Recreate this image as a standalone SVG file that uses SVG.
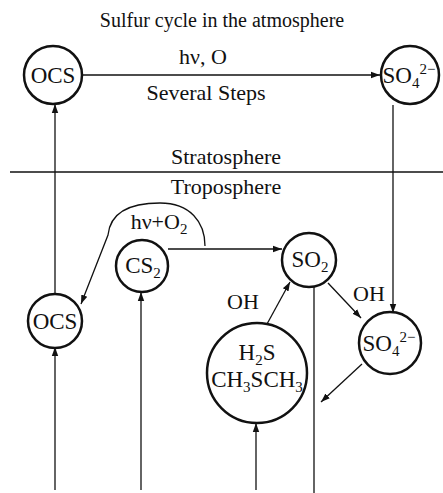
<svg xmlns="http://www.w3.org/2000/svg" width="443" height="493" viewBox="0 0 443 493">
<defs>
<style>
text{font-family:"Liberation Serif","DejaVu Serif",serif;fill:#111;}
.ti{font-size:20px;text-anchor:middle;}
.t{font-size:22px;text-anchor:middle;}
.n{font-size:23px;text-anchor:middle;}
.sub{font-size:15px;}
circle{fill:#fff;stroke:#111;stroke-width:2.5;}
.c line,.c path{stroke:#111;stroke-width:1.3;fill:none;}
</style>
<marker id="ah" markerWidth="10" markerHeight="8" refX="9" refY="4" orient="auto" markerUnits="userSpaceOnUse">
<path d="M0,0.8 L9,4 L0,7.2 Z" fill="#111"/>
</marker>
</defs>
<rect width="443" height="493" fill="#fff"/>
<text class="ti" x="222" y="27">Sulfur cycle in the atmosphere</text>
<g class="c" id="connectors">
<line x1="82" y1="75" x2="380" y2="75" marker-end="url(#ah)"/>
<line x1="55" y1="295" x2="55" y2="104" marker-end="url(#ah)"/>
<line x1="393" y1="105" x2="393" y2="313" marker-end="url(#ah)"/>
<line x1="10" y1="172" x2="443" y2="172"/>
<path d="M205,246 C205,222 190,203 160,203 C125,203 110,216 108,235 L81,304" marker-end="url(#ah)"/>
<line x1="168" y1="249" x2="282" y2="249" marker-end="url(#ah)"/>
<line x1="55" y1="490" x2="55" y2="347" marker-end="url(#ah)"/>
<line x1="141" y1="490" x2="141" y2="292" marker-end="url(#ah)"/>
<line x1="314" y1="287" x2="314" y2="493"/>
<line x1="267" y1="324" x2="290" y2="282" marker-end="url(#ah)"/>
<line x1="328" y1="283" x2="361" y2="318" marker-end="url(#ah)"/>
<line x1="362" y1="364" x2="321" y2="402" marker-end="url(#ah)"/>
<line x1="256" y1="490" x2="256" y2="423" marker-end="url(#ah)"/>
</g>
<text class="t" x="203" y="64">hν, O</text>
<text class="t" x="206" y="100">Several Steps</text>
<text class="t" x="226" y="164">Stratosphere</text>
<text class="t" x="226" y="194">Troposphere</text>
<text class="t" x="159" y="229">hν+O<tspan class="sub" dy="5">2</tspan></text>
<text class="t" x="243" y="309">OH</text>
<text class="t" x="369" y="301">OH</text>
<g id="ocs-top"><circle cx="53" cy="75" r="29"/><text class="n" x="53" y="83">OCS</text></g>
<g id="so4-top"><circle cx="410" cy="75" r="29"/><text class="n" x="409" y="83">SO<tspan class="sub" dy="5">4</tspan><tspan class="sub" dy="-14">2−</tspan></text></g>
<g id="cs2"><circle cx="142" cy="266" r="26"/><text class="n" x="143" y="273">CS<tspan class="sub" dy="5">2</tspan></text></g>
<g id="so2"><circle cx="309" cy="260" r="27"/><text class="n" x="310" y="267">SO<tspan class="sub" dy="5">2</tspan></text></g>
<g id="ocs-low"><circle cx="55" cy="321" r="27"/><text class="n" x="55" y="329">OCS</text></g>
<g id="h2s"><circle cx="257" cy="373" r="50"/><text class="n" x="257" y="360">H<tspan class="sub" dy="5">2</tspan><tspan dy="-5">S</tspan></text><text class="n" x="257" y="387">CH<tspan class="sub" dy="5">3</tspan><tspan dy="-5">SCH</tspan><tspan class="sub" dy="5">3</tspan></text></g>
<g id="so4-low"><circle cx="390" cy="343" r="31"/><text class="n" x="389" y="351">SO<tspan class="sub" dy="5">4</tspan><tspan class="sub" dy="-14">2−</tspan></text></g>
</svg>
